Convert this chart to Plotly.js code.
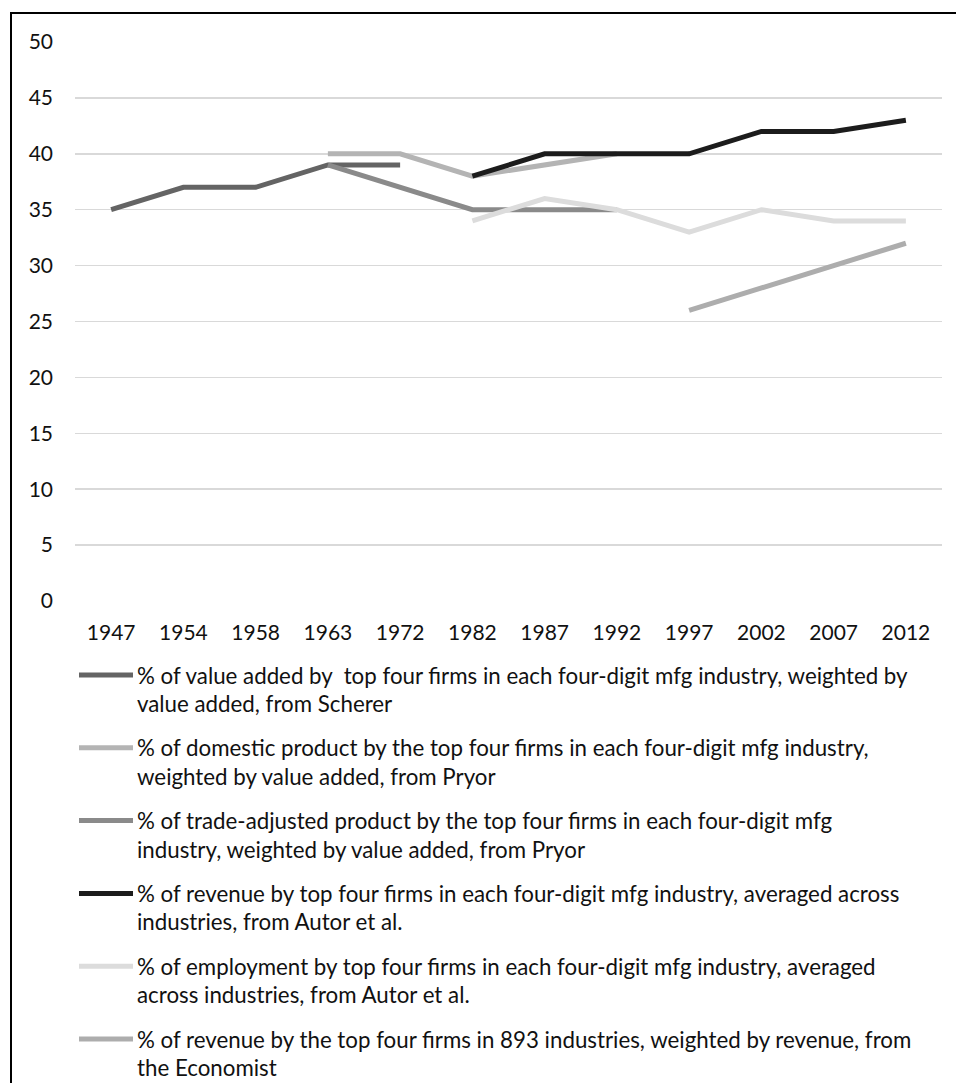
<!DOCTYPE html>
<html>
<head>
<meta charset="utf-8">
<script src="https://cdn.plot.ly/plotly-3.0.1.min.js"></script>
<style>
html,body{margin:0;padding:0;background:#fff;}
#chart{width:956px;height:1083px;}
</style>
</head>
<body>
<div id="chart"></div>
<script>
const years = ["1947","1954","1958","1963","1972","1982","1987","1992","1997","2002","2007","2012"];
const scherer      = [35, 37, 37, 39, 39, null, null, null, null, null, null, null];
const pryorDomestic= [null, null, null, 40, 40, 38, 39, 40, null, null, null, null];
const pryorTrade   = [null, null, null, 39, 37, 35, 35, 35, null, null, null, null];
const autorRevenue = [null, null, null, null, null, 38, 40, 40, 40, 42, 42, 43];
const autorEmploy  = [null, null, null, null, null, 34, 36, 35, 33, 35, 34, 34];
const economist    = [null, null, null, null, null, null, null, null, 26, 28, 30, 32];
const yTicks = [0, 5, 10, 15, 20, 25, 30, 35, 40, 45, 50];
const seriesNames = [
  ["% of value added by  top four firms in each four-digit mfg industry, weighted by", "value added, from Scherer"],
  ["% of domestic product by the top four firms in each four-digit mfg industry,", "weighted by value added, from Pryor"],
  ["% of trade-adjusted product by the top four firms in each four-digit mfg", "industry, weighted by value added, from Pryor"],
  ["% of revenue by top four firms in each four-digit mfg industry, averaged across", "industries, from Autor et al."],
  ["% of employment by top four firms in each four-digit mfg industry, averaged", "across industries, from Autor et al."],
  ["% of revenue by the top four firms in 893 industries, weighted by revenue, from", "the Economist"]
];
const seriesData = [scherer, pryorDomestic, pryorTrade, autorRevenue, autorEmploy, economist];
const colors = ["#646464", "#b4b4b4", "#8a8a8a", "#1c1c1c", "#dcdcdc", "#adadad"];

const W = 956, H = 1083;
const mL = 75, mR = 14, mT = 42, mB = 482;
const plotH = H - mT - mB, plotW = W - mL - mR;
const py = p => (H - mB - p) / plotH;   // pixel y -> paper y
const px = p => (p - mL) / plotW;       // pixel x -> paper x

const traces = seriesData.map((d, i) => ({
  x: years, y: d, type: 'scatter', mode: 'lines',
  name: seriesNames[i].join(' '),
  line: {color: colors[i], width: 5},
  connectgaps: false, showlegend: false, hoverinfo: 'skip'
}));

const shapes = [];
const annotations = [];
seriesNames.forEach((lines, i) => {
  const y0 = 675 + 72.8 * i;
  shapes.push({type: 'line', xref: 'paper', yref: 'paper',
    x0: px(79), x1: px(133), y0: py(y0), y1: py(y0),
    line: {color: colors[i], width: 5}});
  lines.forEach((t, j) => {
    annotations.push({xref: 'paper', yref: 'paper', x: px(135), y: py(y0 + 28.5 * j),
      xanchor: 'left', yanchor: 'middle', showarrow: false, text: t,
      font: {family: 'Lato, sans-serif', size: 22.3, color: '#111'}});
  });
});
// outer frame
shapes.push({type: 'rect', xref: 'paper', yref: 'paper',
  x0: px(11), x1: px(970), y0: py(13), y1: py(1100),
  line: {color: '#000', width: 2}, fillcolor: 'rgba(0,0,0,0)'});

const layout = {
  width: W, height: H,
  margin: {l: mL, r: mR, t: mT, b: mB, pad: 0},
  paper_bgcolor: '#fff', plot_bgcolor: '#fff',
  font: {family: 'Lato, sans-serif', size: 21, color: '#111'},
  showlegend: false,
  xaxis: {type: 'category', categoryorder: 'array', categoryarray: years,
    range: [-0.5, 11.5], showgrid: false, zeroline: false, showline: false,
    ticks: '', ticklabelstandoff: 17, tickfont: {size: 21, color: '#111'}},
  yaxis: {range: [0, 50], tickvals: yTicks, ticktext: yTicks.map(String),
    showgrid: true, gridcolor: '#d9d9d9', gridwidth: 1.5, zeroline: false,
    showline: false, ticks: '', ticklabelstandoff: 21, tickfont: {size: 21, color: '#111'}},
  shapes: shapes,
  annotations: annotations
};

Plotly.newPlot('chart', traces, layout, {displayModeBar: false, staticPlot: true});
</script>
</body>
</html>
